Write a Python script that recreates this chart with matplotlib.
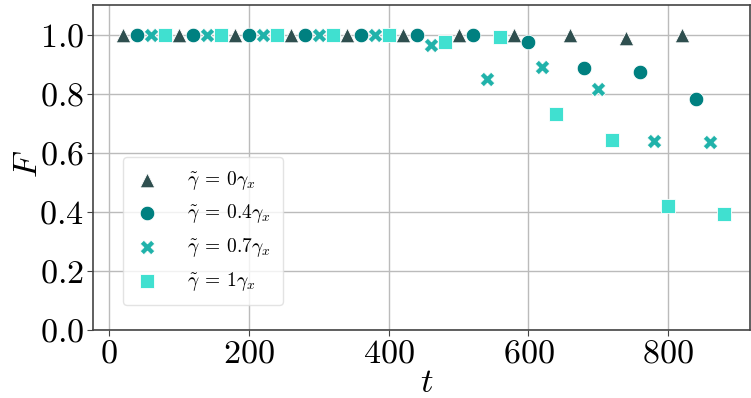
import matplotlib
matplotlib.use("Agg")
import matplotlib.pyplot as plt

plt.rcParams.update({
    "font.family": "serif",
    "font.serif": ["cmr10"],
    "mathtext.fontset": "cm",
    "axes.unicode_minus": False,
    "axes.formatter.use_mathtext": True,
})

# Fidelity F over time t for four dephasing strengths
t_g0 = [20, 100, 180, 260, 340, 420, 500, 580, 660, 740, 820]
F_g0 = [1.0, 1.0, 1.0, 1.0, 1.0, 1.0, 1.0, 1.0, 1.0, 0.987, 1.0]

t_g04 = [40, 120, 200, 280, 360, 440, 520, 600, 680, 760, 840]
F_g04 = [1.0, 1.0, 1.0, 1.0, 1.0, 1.0, 1.0, 0.976, 0.888, 0.872, 0.781]

t_g07 = [60, 140, 220, 300, 380, 460, 540, 620, 700, 780, 860]
F_g07 = [1.0, 1.0, 1.0, 1.0, 1.0, 0.966, 0.849, 0.891, 0.816, 0.641, 0.638]

t_g1 = [80, 160, 240, 320, 400, 480, 560, 640, 720, 800, 880]
F_g1 = [1.0, 1.0, 1.0, 1.0, 1.0, 0.975, 0.991, 0.731, 0.644, 0.421, 0.391]

labels = [r"$\tilde{\gamma}\:=\:0\gamma_x$", r"$\tilde{\gamma}\:=\:0.4\gamma_x$",
          r"$\tilde{\gamma}\:=\:0.7\gamma_x$", r"$\tilde{\gamma}\:=\:1\gamma_x$"]
colors = ["#2F4F4F", "#008080", "#20B2AA", "#40E0D0"]
markers = ["^", "o", "X", "s"]

fig = plt.figure(figsize=(7.51, 3.98), dpi=100)
ax = fig.add_axes([93 / 751, 1 - 330 / 398, (750 - 93) / 751, 325 / 398])

series = [(t_g0, F_g0), (t_g04, F_g04), (t_g07, F_g07), (t_g1, F_g1)]
for (t, F), lab, c, m in zip(series, labels, colors, markers):
    ax.scatter(t, F, s=110, marker=m, color=c, edgecolors="white",
               linewidths=0.6, label=lab, zorder=3)

ax.set_ylim(0, 1.1)
ax.set_xlim(-23, 917)
ax.set_xticks([0, 200, 400, 600, 800])
ax.set_yticks([0.0, 0.2, 0.4, 0.6, 0.8, 1.0])
ax.grid(True, color="#bbbbbb", linewidth=1.0, zorder=0)
ax.set_axisbelow(True)
for sp in ax.spines.values():
    sp.set_color("#444444")
    sp.set_linewidth(1.2)
ax.tick_params(labelsize=24.5, length=4, pad=2.5, color="#444444")
ax.set_xlabel(r"$t$", fontsize=25)
ax.set_ylabel(r"$F$", fontsize=25)
ax.xaxis.set_label_coords(0.508, -0.115)
ax.yaxis.set_label_coords(-0.075, 0.51)

leg = ax.legend(loc="upper left", bbox_to_anchor=(0.046, 0.532),
                borderaxespad=0, fontsize=14, framealpha=0.8,
                handlelength=1.2, handletextpad=1.5, labelspacing=0.55,
                borderpad=0.6)
leg.get_frame().set_edgecolor("#dddddd")

fig.savefig("out.png", dpi=100)
